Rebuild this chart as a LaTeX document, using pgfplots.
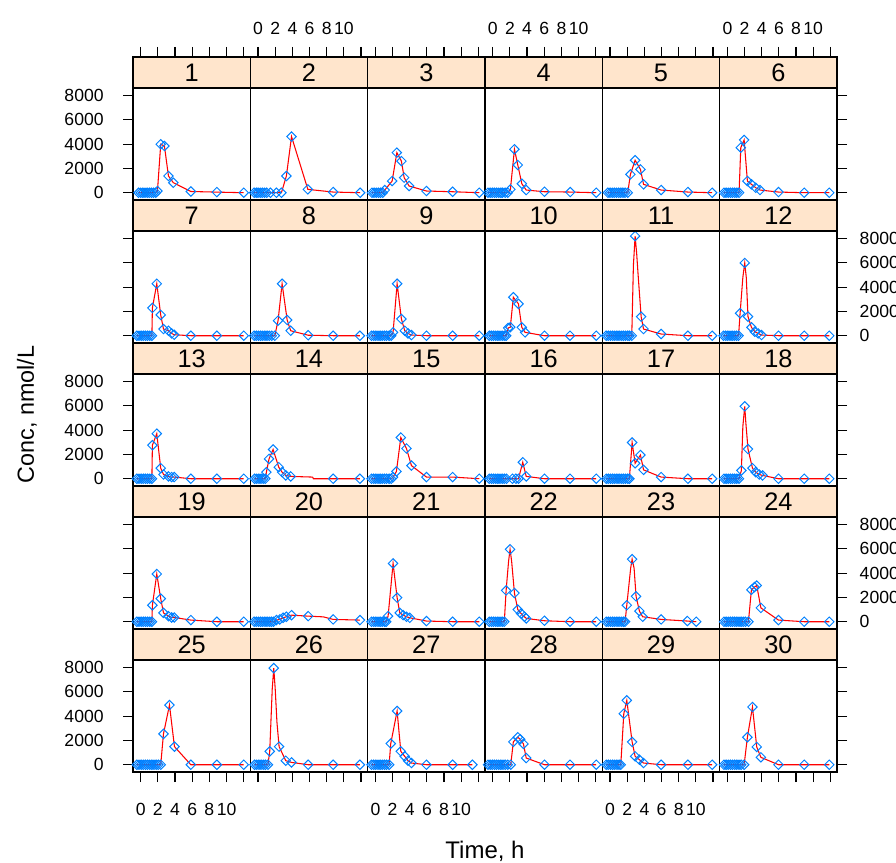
\documentclass[border=0pt]{standalone}
\usepackage{fontspec}
\setmainfont{Liberation Sans}
\usepackage{pgfplots}
\pgfplotsset{compat=1.18}
\definecolor{stripcol}{HTML}{FFE5CC}
\definecolor{ptblue}{HTML}{0080FF}
\newcommand\tfont{\fontsize{13.2pt}{15pt}\selectfont}
\newcommand\sfont{\fontsize{19pt}{21pt}\selectfont}
\newcommand\LL[1]{#1\hspace*{11pt}}
\newcommand\RL[1]{\hspace*{6pt}#1}
\pgfplotsset{
  base/.style={scale only axis, width=88pt, anchor=north west, xmin=-0.9, xmax=12.77,
    axis line style={line width=0.9pt}, tick style={line width=0.9pt, black},
    tick align=outside, major tick length=7.5pt, xtick=\empty, ytick=\empty,
    ticklabel style={font=\tfont, text=black}},
  panel/.style={base, height=84pt, ymin=-600, ymax=8620},
  strip/.style={base, height=23.25pt, ymin=0, ymax=1, axis background/.style={fill=stripcol}},
  leftnolab/.style={ytick={0,2000,4000,6000,8000}, ytick pos=left, yticklabels={,,,,}},
  leftlab/.style={ytick={0,2000,4000,6000,8000}, ytick pos=left, yticklabels={\LL{0},\LL{2000},\LL{4000},\LL{6000},\LL{8000}}},
  rightnolab/.style={ytick={0,2000,4000,6000,8000}, ytick pos=right, yticklabels={,,,,}},
  rightlab/.style={ytick={0,2000,4000,6000,8000}, ytick pos=right, yticklabels={\RL{0},\RL{2000},\RL{4000},\RL{6000},\RL{8000}}},
  botnolab/.style={xtick={0,2,4,6,8,10,12}, xtick pos=left, xticklabels={,,,,,,}},
  botlab/.style={xtick={0,2,4,6,8,10,12}, xtick pos=left, xticklabels={0,2,4,6,8,10,{}}, xticklabel shift=12.5pt},
  topnolab/.style={xtick={0,2,4,6,8,10,12}, xtick pos=right, xticklabels={,,,,,,}},
  toplab/.style={xtick={0,2,4,6,8,10,12}, xtick pos=right, xticklabels={0,2,4,6,8,10,{}}, xticklabel shift=6pt},
}
\newcommand\panel[7]{%
  \begin{axis}[panel, at={(99.75pt+#1*88pt-88pt, -#2*107.25pt+41.25pt)}, #6]
    \addplot[only marks, mark=square, mark size=2.5pt, mark options={rotate=45, draw=ptblue, line width=0.75pt}] coordinates {#4};
    \def\tmp{#5}\ifx\tmp\empty
      \addplot[red, line width=0.8pt] coordinates {#4};
    \else
      \addplot[red, line width=0.8pt] coordinates {#5};
    \fi
  \end{axis}
  \begin{axis}[strip, at={(99.75pt+#1*88pt-88pt, -#2*107.25pt+64.5pt)}, #7]
    \node at (rel axis cs:0.5,0.5) {\sfont #3};
  \end{axis}
}
\begin{document}
\begin{tikzpicture}
% row 1
\panel{1}{1}{1}{(-0.25,0)(0,0)(0.25,0)(0.5,0)(0.75,0)(1,0)(1.25,0)(1.5,0)(1.75,0)(1.95,140)(2.33,3990)(2.76,3850)(3.23,1375)(3.8,825)(5.84,100)(8.87,50)(12,0)}{}{leftlab}{topnolab}
\panel{2}{1}{2}{(-0.45,0)(-0.2,0)(0,0)(0.25,0)(0.5,0)(0.75,0)(1,0)(1.44,0)(2.14,0)(2.72,0)(3.3,1375)(3.9,4620)(5.8,275)(8.75,55)(11.9,0)}{}{}{toplab}
\panel{3}{1}{3}{(-0.4,0)(-0.15,0)(0.1,0)(0.35,0)(0.6,0)(0.85,0)(1.09,220)(1.95,960)(2.5,3300)(3.03,2600)(3.35,1240)(3.93,550)(5.95,140)(9,80)(12.1,0)}{}{}{topnolab}
\panel{4}{1}{4}{(-0.55,0)(-0.3,0)(-0.05,0)(0.2,0)(0.45,0)(0.7,0)(0.95,0)(1.15,0)(1.45,0)(1.75,0)(2.06,275)(2.53,3575)(2.92,2280)(3.39,740)(3.9,220)(6.03,80)(9.03,55)(12.06,0)}{}{}{toplab}
\panel{5}{1}{5}{(-0.25,0)(0,0)(0.25,0)(0.5,0)(0.75,0)(1,0)(1.25,0)(1.5,0)(1.75,0)(2.06,0)(2.37,1510)(2.92,2670)(3.54,1920)(3.9,690)(5.95,220)(9.07,55)(11.9,0)}{}{}{topnolab}
\panel{6}{1}{6}{(-0.4,0)(-0.15,0)(0.1,0)(0.35,0)(0.6,0)(0.85,0)(1.1,0)(1.36,0)(1.56,3710)(1.95,4345)(2.33,960)(2.8,690)(3.3,410)(3.8,220)(5.95,55)(8.95,0)(11.87,0)}{}{rightnolab}{toplab}
% row 2
\panel{1}{2}{7}{(-0.45,0)(-0.2,0)(0.05,0)(0.3,0)(0.55,0)(0.8,0)(1.05,0)(1.3,0)(1.36,2290)(1.87,4280)(2.33,1710)(2.65,550)(3.23,410)(3.6,190)(3.9,80)(5.84,0)(8.87,0)(12,0)}{}{leftnolab}{}
\panel{2}{2}{8}{(-0.45,0)(-0.2,0)(0.05,0)(0.3,0)(0.55,0)(0.8,0)(1.05,0)(1.3,0)(1.6,0)(1.95,0)(2.33,1240)(2.8,4280)(3.39,1300)(3.8,410)(5.84,40)(8.75,0)(11.87,0)}{}{}{}
\panel{3}{2}{9}{(-0.45,0)(-0.2,0)(0.05,0)(0.3,0)(0.55,0)(0.8,0)(1.05,0)(1.3,0)(1.6,0)(1.85,0)(2.06,275)(2.53,4280)(3.03,1380)(3.42,410)(3.8,190)(4.2,55)(5.95,0)(9,0)(12.1,0)}{}{}{}
\panel{4}{2}{10}{(-0.4,0)(-0.15,0)(0.1,0)(0.35,0)(0.6,0)(0.85,0)(1.1,0)(1.35,0)(1.56,0)(1.8,640)(2.05,700)(2.4,3170)(3.0,2620)(3.39,690)(3.77,275)(6.03,0)(9,0)(12.06,0)}{}{}{}
\panel{5}{2}{11}{(-0.45,0)(-0.2,0)(0.05,0)(0.3,0)(0.55,0)(0.8,0)(1.05,0)(1.3,0)(1.55,0)(1.8,0)(2.05,0)(2.25,0)(2.53,0)(2.92,8200)(3.62,1570)(3.9,550)(5.95,140)(9.07,0)(11.9,0)}{(-0.45,0)(2.53,0)(2.72,5800)(2.92,8200)(3.1,6760)(3.3,4690)(3.62,1570)(3.9,550)(5.95,140)(9.07,0)(11.9,0)}{}{}
\panel{6}{2}{12}{(-0.45,0)(-0.2,0)(0.05,0)(0.3,0)(0.55,0)(0.8,0)(1.05,0)(1.3,0)(1.48,1850)(2.02,5990)(2.4,1570)(2.8,690)(3.2,330)(3.58,190)(3.97,55)(5.95,0)(8.95,0)(11.87,0)}{(-0.45,0)(1.3,0)(1.48,1850)(1.8,4800)(2.02,5990)(2.2,4800)(2.4,1570)(2.8,690)(3.2,330)(3.58,190)(3.97,55)(5.95,0)(8.95,0)(11.87,0)}{rightlab}{}
% row 3
\panel{1}{3}{13}{(-0.45,0)(-0.2,0)(0.05,0)(0.3,0)(0.55,0)(0.8,0)(1.05,0)(1.3,0)(1.36,2760)(1.87,3710)(2.33,870)(2.65,350)(3.23,190)(3.6,135)(3.9,135)(5.84,0)(8.87,0)(12,0)}{}{leftlab}{}
\panel{2}{3}{14}{(-0.4,0)(-0.15,0)(0.1,0)(0.35,0)(0.6,0)(0.85,0)(0.97,540)(1.28,1630)(1.75,2410)(2.41,950)(2.8,540)(3.23,270)(3.8,190)(8.75,0)(11.87,0)}{(-0.4,0)(0.85,0)(0.97,540)(1.28,1630)(1.75,2410)(2.41,950)(2.8,540)(3.23,270)(3.8,190)(6.35,135)(6.45,0)(8.75,0)(11.87,0)}{}{}
\panel{3}{3}{15}{(-0.45,0)(-0.2,0)(0.05,0)(0.3,0)(0.55,0)(0.8,0)(1.05,0)(1.3,0)(1.6,0)(1.85,0)(2.06,135)(2.45,600)(2.96,3390)(3.62,2490)(4.2,1080)(5.95,135)(9,135)(12.1,0)}{}{}{}
\panel{4}{3}{16}{(-0.4,0)(-0.15,0)(0.1,0)(0.35,0)(0.6,0)(0.85,0)(1.1,0)(1.35,0)(1.6,0)(2.3,0)(2.7,0)(3.0,0)(3.5,1355)(3.9,190)(6.03,0)(9,0)(12.06,0)}{}{}{}
\panel{5}{3}{17}{(-0.45,0)(-0.2,0)(0.05,0)(0.3,0)(0.55,0)(0.8,0)(1.05,0)(1.3,0)(1.55,0)(1.8,0)(2.05,0)(2.25,0)(2.57,2980)(2.92,1270)(3.54,1950)(3.9,730)(5.95,135)(9.07,0)(11.9,0)}{}{}{}
\panel{6}{3}{18}{(-0.4,0)(-0.15,0)(0.1,0)(0.35,0)(0.6,0)(0.85,0)(1.1,0)(1.35,0)(1.63,680)(2.02,5960)(2.4,2440)(2.92,870)(3.3,540)(3.7,350)(4.1,270)(5.95,0)(8.95,0)(11.87,0)}{(-0.4,0)(1.35,0)(1.63,680)(1.8,4300)(2.02,5960)(2.15,4600)(2.4,2440)(2.92,870)(3.3,540)(3.7,350)(4.1,270)(5.95,0)(8.95,0)(11.87,0)}{rightnolab}{}
% row 4
\panel{1}{4}{19}{(-0.45,0)(-0.2,0)(0.05,0)(0.3,0)(0.55,0)(0.8,0)(1.05,0)(1.3,0)(1.36,1355)(1.87,3930)(2.33,1900)(2.65,730)(3.23,460)(3.6,350)(3.9,350)(5.84,135)(8.87,0)(12,0)}{}{leftnolab}{}
\panel{2}{4}{20}{(-0.45,0)(-0.2,0)(0.05,0)(0.3,0)(0.55,0)(0.8,0)(1.05,0)(1.3,0)(1.55,0)(1.8,0)(2.14,135)(2.53,190)(2.92,325)(3.3,410)(3.9,540)(5.84,460)(8.75,190)(11.87,135)}{(-0.45,0)(1.8,0)(2.14,135)(2.53,190)(2.92,325)(3.3,410)(3.9,540)(5.84,460)(7.6,400)(8.75,190)(11.87,135)}{}{}
\panel{3}{4}{21}{(-0.45,0)(-0.2,0)(0.05,0)(0.3,0)(0.55,0)(0.8,0)(1.05,0)(1.25,0)(1.48,460)(2.06,4800)(2.53,1980)(2.84,730)(3.23,540)(3.62,410)(4.0,325)(5.95,55)(9,0)(12.1,0)}{}{}{}
\panel{4}{4}{22}{(-0.4,0)(-0.15,0)(0.1,0)(0.35,0)(0.6,0)(0.85,0)(1.1,0)(1.35,0)(1.56,2575)(2.02,5960)(2.53,2360)(2.92,1000)(3.3,680)(3.7,410)(3.9,270)(6.03,80)(9,0)(12.06,0)}{(-0.4,0)(1.35,0)(1.56,2575)(1.85,5000)(2.02,5960)(2.2,5000)(2.53,2360)(2.92,1000)(3.3,680)(3.7,410)(3.9,270)(6.03,80)(9,0)(12.06,0)}{}{}
\panel{5}{4}{23}{(-0.45,0)(-0.2,0)(0.05,0)(0.3,0)(0.55,0)(0.8,0)(1.05,0)(1.3,0)(1.55,0)(1.75,0)(1.95,1355)(2.57,5150)(3.03,2090)(3.42,870)(3.8,410)(5.95,190)(9,55)(10.04,0)}{(-0.45,0)(1.75,0)(1.95,1355)(2.4,4400)(2.57,5150)(2.8,4400)(3.03,2090)(3.42,870)(3.8,410)(5.95,190)(9,55)(10.04,0)}{}{}
\panel{6}{4}{24}{(-0.4,0)(-0.15,0)(0.1,0)(0.35,0)(0.6,0)(0.85,0)(1.1,0)(1.35,0)(1.6,0)(1.85,0)(2.1,0)(2.45,0)(2.8,2630)(3.15,2850)(3.42,2980)(3.9,1140)(5.95,135)(8.95,0)(11.87,0)}{}{rightlab}{}
% row 5
\panel{1}{5}{25}{(-0.45,0)(-0.2,0)(0.05,0)(0.3,0)(0.55,0)(0.8,0)(1.05,0)(1.3,0)(1.55,0)(1.8,0)(2.05,0)(2.33,0)(2.65,2540)(3.35,4910)(3.93,1490)(5.84,0)(8.87,0)(12,0)}{}{leftlab,botlab}{}
\panel{2}{5}{26}{(-0.4,0)(-0.15,0)(0.1,0)(0.35,0)(0.6,0)(0.85,0)(1.15,0)(1.36,1100)(1.83,7950)(2.45,1490)(3.23,330)(3.9,190)(5.84,0)(8.75,0)(11.87,0)}{(-0.4,0)(1.15,0)(1.36,1100)(1.65,6210)(1.83,7950)(2.0,6210)(2.2,3500)(2.45,1490)(3.23,330)(3.9,190)(5.84,0)(8.75,0)(11.87,0)}{botnolab}{}
\panel{3}{5}{27}{(-0.45,0)(-0.2,0)(0.05,0)(0.3,0)(0.55,0)(0.8,0)(1.05,0)(1.3,0)(1.6,0)(1.79,1740)(2.53,4420)(2.96,1100)(3.42,690)(3.8,330)(4.2,140)(5.95,0)(9,0)(11.3,0)}{}{botlab}{}
\panel{4}{5}{28}{(-0.55,0)(-0.3,0)(-0.05,0)(0.2,0)(0.45,0)(0.7,0)(0.95,0)(1.2,0)(1.45,0)(1.75,0)(2.1,0)(2.4,1880)(2.92,2260)(3.2,2100)(3.58,1710)(3.9,550)(6.03,0)(9,0)(12.06,0)}{}{botnolab}{}
\panel{5}{5}{29}{(-0.45,0)(-0.2,0)(0.05,0)(0.3,0)(0.55,0)(0.8,0)(1.05,0)(1.25,0)(1.6,4200)(1.95,5300)(2.57,1880)(2.92,690)(3.42,410)(3.9,140)(5.95,0)(9.07,0)(11.9,0)}{}{botlab}{}
\panel{6}{5}{30}{(-0.4,0)(-0.15,0)(0.1,0)(0.35,0)(0.6,0)(0.85,0)(1.1,0)(1.35,0)(1.6,0)(1.95,0)(2.33,2260)(2.92,4750)(3.42,1460)(3.9,610)(5.95,0)(8.95,0)(11.87,0)}{}{rightnolab,botnolab}{}
\node[rotate=90, font=\fontsize{17.5pt}{19pt}\selectfont] at (20.25pt,-310.9pt) {Conc, nmol/L};
\node[font=\fontsize{18pt}{20pt}\selectfont] at (363.75pt,-638.5pt) {Time, h};
\pgfresetboundingbox
\path[use as bounding box] (0pt,0pt) rectangle (672pt,-647.25pt);
\end{tikzpicture}
\end{document}
